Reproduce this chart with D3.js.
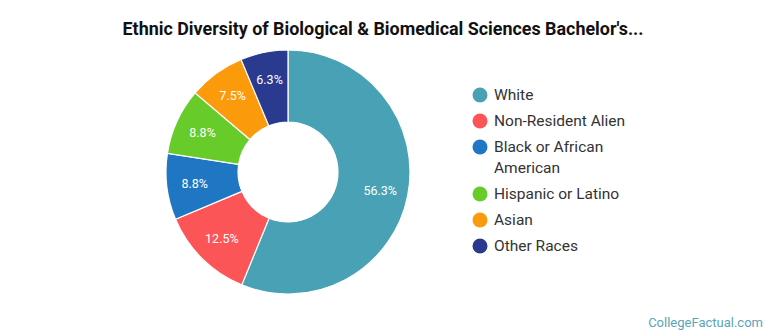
<!DOCTYPE html>
<html><head><meta charset="utf-8">
<script src="https://cdn.jsdelivr.net/npm/d3@7"></script>
<style>
body{margin:0;background:#fff;}
svg{display:block;font-family:Roboto,"Noto Sans",sans-serif;}
</style></head>
<body>
<svg id="c" width="770" height="335"></svg>
<script>
const categories = ["White","Non-Resident Alien","Black or African American","Hispanic or Latino","Asian","Other Races"];
const legendLines = [["White"],["Non-Resident Alien"],["Black or African","American"],["Hispanic or Latino"],["Asian"],["Other Races"]];
const values = [56.3, 12.5, 8.8, 8.8, 7.5, 6.3];
const colors = ["#48a1b4","#fc5558","#1f76c2","#67cb2a","#fb9a0b","#2a3a8f"];
const labels = ["56.3%","12.5%","8.8%","8.8%","7.5%","6.3%"];

const svg = d3.select("#c");
svg.append("text").attr("x",383).attr("y",35).attr("text-anchor","middle")
  .attr("font-size",17.9).attr("font-weight",700).attr("fill","#111")
  .text("Ethnic Diversity of Biological & Biomedical Sciences Bachelor's...");

const cx=288, cy=172, R=122, r=50;
const pie = d3.pie().sort(null).value(d=>d)(values);
const arc = d3.arc().innerRadius(r).outerRadius(R);
const g = svg.append("g").attr("transform",`translate(${cx},${cy})`);
g.selectAll("path").data(pie).join("path")
  .attr("d",arc).attr("fill",(d,i)=>colors[i]).attr("stroke","#fff").attr("stroke-width",1.2);
const labArc = d3.arc().innerRadius(94).outerRadius(94);
g.selectAll("text").data(pie).join("text")
  .attr("transform",d=>`translate(${labArc.centroid(d)})`)
  .attr("text-anchor","middle").attr("dy","0.35em")
  .attr("font-size",12.5).attr("fill","#fff")
  .text((d,i)=>labels[i]);

const rowsY = [95,121,147,194,220,246];
const lg = svg.append("g");
categories.forEach((c,i)=>{
  lg.append("circle").attr("cx",480).attr("cy",rowsY[i]).attr("r",7.5).attr("fill",colors[i]);
  const t = lg.append("text").attr("x",494).attr("y",rowsY[i])
    .attr("font-size",15.5).attr("fill","#333");
  legendLines[i].forEach((ln,j)=>{
    t.append("tspan").attr("x",494).attr("dy", j===0?"0.35em":"21px").text(ln);
  });
});

svg.append("text").attr("x",763).attr("y",327).attr("text-anchor","end")
  .attr("font-size",13).attr("fill","#5aa5b9").text("CollegeFactual.com");
</script>
</body></html>
